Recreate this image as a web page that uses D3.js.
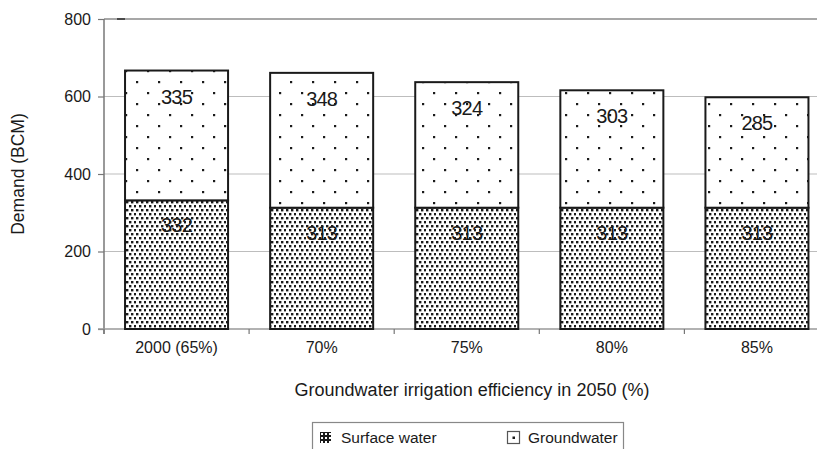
<!DOCTYPE html>
<html>
<head>
<meta charset="utf-8">
<script src="https://cdn.jsdelivr.net/npm/d3@7/dist/d3.min.js"></script>
<style>
  html, body { margin: 0; padding: 0; background: #fff; }
  svg { display: block; }
  text { font-family: "Liberation Sans", Arial, sans-serif; fill: #1a1a1a; }
</style>
</head>
<body>
<svg id="chart" width="817" height="449"></svg>
<script>
// ---- data ----
const categories = ["2000 (65%)", "70%", "75%", "80%", "85%"];
const surfaceWater = [332, 313, 313, 313, 313];
const groundwater = [335, 348, 324, 303, 285];
const yTicks = [0, 200, 400, 600, 800];
const seriesNames = ["Surface water", "Groundwater"];
const yTitle = "Demand (BCM)";
const xTitle = "Groundwater irrigation efficiency in 2050 (%)";

const svg = d3.select("#chart");
const W = 817, H = 449;
const plot = { left: 104, right: 829.5, top: 19, bottom: 329 };

// patterns
const defs = svg.append("defs");
const pDense = defs.append("pattern").attr("id", "dense")
  .attr("patternUnits", "userSpaceOnUse").attr("width", 10).attr("height", 8)
  .attr("x", 126).attr("y", 0);
pDense.append("rect").attr("width", 10).attr("height", 8).attr("fill", "#fff");
[[0, 1], [5, 1], [3, 5], [8, 5]].forEach(([px, py]) => {
  pDense.append("rect").attr("x", px).attr("y", py).attr("width", 2.4).attr("height", 2.4).attr("fill", "#1a1a1a");
});

const pSparse = defs.append("pattern").attr("id", "sparse")
  .attr("patternUnits", "userSpaceOnUse").attr("width", 22).attr("height", 22)
  .attr("x", 125).attr("y", 0);
pSparse.append("rect").attr("width", 22).attr("height", 22).attr("fill", "#fff");
pSparse.append("rect").attr("x", 0).attr("y", 4).attr("width", 2.2).attr("height", 2.2).attr("fill", "#1a1a1a");
pSparse.append("rect").attr("x", 11).attr("y", 15).attr("width", 2.2).attr("height", 2.2).attr("fill", "#1a1a1a");

const pLeg = defs.append("pattern").attr("id", "legdense")
  .attr("patternUnits", "userSpaceOnUse").attr("width", 4).attr("height", 4)
  .attr("x", 320).attr("y", 432);
pLeg.append("rect").attr("width", 4).attr("height", 4).attr("fill", "#1a1a1a");
pLeg.append("rect").attr("x", 1).attr("y", 1).attr("width", 2).attr("height", 2).attr("fill", "#fff");

// scales
const x = d3.scaleBand().domain(categories).range([plot.left, plot.right])
  .paddingInner(0.29).paddingOuter(0.145);
const y = d3.scaleLinear().domain([0, 800]).range([plot.bottom, plot.top]);

// gridlines
svg.append("g").selectAll("line").data(yTicks.filter(d => d > 0 && d < 800)).join("line")
  .attr("x1", plot.left).attr("x2", W)
  .attr("y1", d => y(d)).attr("y2", d => y(d))
  .attr("stroke", "#bdbdbd").attr("stroke-width", 1.2);
// top line at 800
svg.append("line").attr("x1", plot.left).attr("x2", W)
  .attr("y1", y(800)).attr("y2", y(800))
  .attr("stroke", "#8a8a8a").attr("stroke-width", 1.6);
svg.append("line").attr("x1", 117).attr("x2", 125)
  .attr("y1", y(800)).attr("y2", y(800))
  .attr("stroke", "#333").attr("stroke-width", 1.6);

// y axis
const yAxis = d3.axisLeft(y).tickValues(yTicks).tickSize(6).tickPadding(7).tickFormat(d3.format("d"));
const gy = svg.append("g").attr("transform", `translate(${plot.left},0)`).call(yAxis)
  .attr("font-family", null).attr("font-size", null);
gy.select(".domain").remove();
gy.selectAll(".tick line").attr("stroke", "#777").attr("stroke-width", 1.2);
gy.selectAll(".tick text").attr("font-size", 16).attr("fill", "#1a1a1a");
svg.append("line").attr("x1", plot.left).attr("x2", plot.left)
  .attr("y1", plot.top).attr("y2", plot.bottom + 5)
  .attr("stroke", "#777").attr("stroke-width", 1.5);

// x axis
svg.append("line").attr("x1", plot.left - 6).attr("x2", W)
  .attr("y1", plot.bottom).attr("y2", plot.bottom)
  .attr("stroke", "#999").attr("stroke-width", 1.5);
const step = x.step();
svg.append("g").selectAll("line").data(d3.range(categories.length + 1)).join("line")
  .attr("x1", i => plot.left + i * step).attr("x2", i => plot.left + i * step)
  .attr("y1", plot.bottom).attr("y2", plot.bottom + 5)
  .attr("stroke", "#777").attr("stroke-width", 1.2);
svg.append("g").selectAll("text").data(categories).join("text")
  .attr("x", d => x(d) + x.bandwidth() / 2).attr("y", 353)
  .attr("text-anchor", "middle").attr("font-size", 16).text(d => d);

// bars
const rows = categories.map((c, i) => ({ c, s: surfaceWater[i], g: groundwater[i] }));
const bars = svg.append("g");
bars.selectAll("rect.sw").data(rows).join("rect").attr("class", "sw")
  .attr("x", d => x(d.c)).attr("width", x.bandwidth())
  .attr("y", d => y(d.s)).attr("height", d => y(0) - y(d.s))
  .attr("fill", "url(#dense)").attr("stroke", "#1a1a1a").attr("stroke-width", 2);
bars.selectAll("rect.gw").data(rows).join("rect").attr("class", "gw")
  .attr("x", d => x(d.c)).attr("width", x.bandwidth())
  .attr("y", d => y(d.s + d.g)).attr("height", d => y(d.s) - y(d.s + d.g))
  .attr("fill", "url(#sparse)").attr("stroke", "#1a1a1a").attr("stroke-width", 2);

// value labels
const lab = svg.append("g").attr("text-anchor", "middle");
lab.selectAll("text.sl").data(rows).join("text").attr("class", "sl")
  .attr("x", d => x(d.c) + x.bandwidth() / 2).attr("y", d => y(d.s) + 32)
  .attr("letter-spacing", -0.8).style("font-size", "20px").text(d => d.s);
lab.selectAll("text.gl").data(rows).join("text").attr("class", "gl")
  .attr("x", d => x(d.c) + x.bandwidth() / 2).attr("y", d => y(d.s + d.g) + 33)
  .attr("letter-spacing", -0.8).style("font-size", "20px").text(d => d.g);

// titles
svg.append("text").attr("transform", `translate(24,${(plot.top + plot.bottom) / 2}) rotate(-90)`)
  .attr("text-anchor", "middle").attr("font-size", 17.5).text(yTitle);
svg.append("text").attr("x", 472).attr("y", 396)
  .attr("text-anchor", "middle").attr("font-size", 18).text(xTitle);

// legend
svg.append("rect").attr("x", 312.5).attr("y", 422.5).attr("width", 311).attr("height", 40)
  .attr("fill", "none").attr("stroke", "#888").attr("stroke-width", 1.2);
svg.append("rect").attr("x", 320).attr("y", 432).attr("width", 11).attr("height", 11)
  .attr("fill", "url(#legdense)");
svg.append("text").attr("x", 341).attr("y", 443).attr("font-size", 15.5).text(seriesNames[0]);
svg.append("rect").attr("x", 507.5).attr("y", 431.5).attr("width", 12).attr("height", 12)
  .attr("fill", "#fff").attr("stroke", "#555").attr("stroke-width", 1.2);
svg.append("rect").attr("x", 512.5).attr("y", 436.5).attr("width", 2.5).attr("height", 2.5)
  .attr("fill", "#1a1a1a");
svg.append("text").attr("x", 528).attr("y", 443).attr("font-size", 15.5).text(seriesNames[1]);
</script>
</body>
</html>
